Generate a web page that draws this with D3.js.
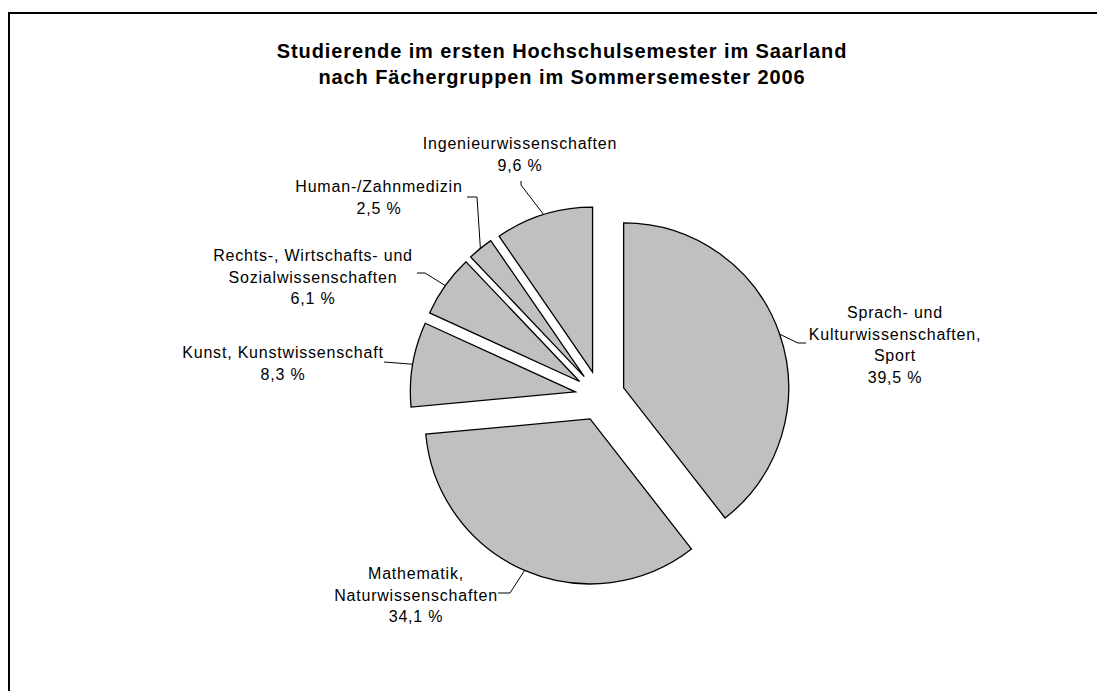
<!DOCTYPE html>
<html>
<head>
<meta charset="utf-8">
<script src="https://cdn.jsdelivr.net/npm/d3@7"></script>
<style>
  html, body { margin: 0; padding: 0; background: #fff; }
  svg { display: block; font-family: Arial, "Liberation Sans", sans-serif; }
</style>
</head>
<body>
<div id="chart"></div>
<script>
// data
const titleLines = ['Studierende im ersten Hochschulsemester im Saarland', 'nach Fächergruppen im Sommersemester 2006'];
const categories = [
  ['Sprach- und', 'Kulturwissenschaften,', 'Sport'],
  ['Mathematik,', 'Naturwissenschaften'],
  ['Kunst, Kunstwissenschaft'],
  ['Rechts-, Wirtschafts- und', 'Sozialwissenschaften'],
  ['Human-/Zahnmedizin'],
  ['Ingenieurwissenschaften']
];
const shares = [39.5, 34.1, 8.3, 6.1, 2.5, 9.6];

// label layout: text centre x, first baseline y, leader elbow and end near text
const labelPos = [
  { x: 895, y: 318, elbow: [798, 343], end: [806, 343] },
  { x: 416, y: 579, elbow: [510, 593], end: [498, 593] },
  { x: 283, y: 358, elbow: null, end: [384, 362] },
  { x: 313, y: 261, elbow: [425, 273], end: [417, 273] },
  { x: 379, y: 192, elbow: [477, 197], end: [467, 197] },
  { x: 520, y: 149, elbow: [521, 185], end: [521, 181] }
];

const W = 1097, H = 691;
const cx = 600, cy = 396, R = 165, explode = 25;

const svg = d3.select('#chart').append('svg').attr('width', W).attr('height', H);

svg.append('rect').attr('x', 9).attr('y', 13).attr('width', 1200).attr('height', 900)
  .attr('fill', 'none').attr('stroke', '#000').attr('stroke-width', 2);

const title = svg.append('text').attr('text-anchor', 'middle').attr('font-weight', 'bold')
  .style('font-size', '20px').style('letter-spacing', '0.9px').attr('fill', '#000');
titleLines.forEach((t, i) => title.append('tspan').attr('x', 562).attr('y', 58 + i * 26).text(t));

const pie = d3.pie().sort(null).value(d => d)(shares);
const arc = d3.arc().innerRadius(0).outerRadius(R);
const fmt = v => d3.format('.1f')(v).replace('.', ',') + ' %';

const g = svg.append('g').attr('transform', `translate(${cx},${cy})`);

pie.forEach((p, i) => {
  const mid = (p.startAngle + p.endAngle) / 2;
  const ox = explode * Math.sin(mid), oy = -explode * Math.cos(mid);
  g.append('path').attr('d', arc(p)).attr('transform', `translate(${ox},${oy})`)
    .attr('fill', '#c0c0c0').attr('stroke', '#000').attr('stroke-width', 1.3).attr('stroke-linejoin', 'miter');

  // leader from arc midpoint to label
  const ax = cx + ox + R * Math.sin(mid), ay = cy + oy - R * Math.cos(mid);
  const lp = labelPos[i];
  const pts = [[ax, ay]];
  if (lp.elbow) pts.push(lp.elbow);
  pts.push(lp.end);
  svg.append('path').attr('d', d3.line()(pts)).attr('fill', 'none').attr('stroke', '#000').attr('stroke-width', 1);

  const lines = categories[i].concat([fmt(shares[i])]);
  const t = svg.append('text').attr('text-anchor', 'middle').style('font-size', '16px')
    .style('letter-spacing', '0.8px').attr('fill', '#000');
  lines.forEach((s, k) => t.append('tspan').attr('x', lp.x).attr('y', lp.y + k * 21.5).text(s));
});
</script>
</body>
</html>
